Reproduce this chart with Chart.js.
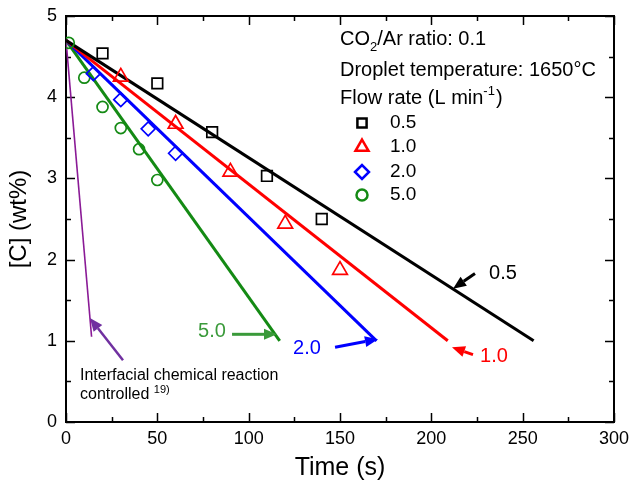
<!DOCTYPE html>
<html>
<head>
<meta charset="utf-8">
<script src="https://cdn.jsdelivr.net/npm/chart.js@4/dist/chart.umd.min.js"></script>
<style>
  html, body { margin: 0; padding: 0; background: #fff; }
  #wrap { width: 632px; height: 488px; }
</style>
</head>
<body>
<div id="wrap"><canvas id="decarbChart" width="632" height="488"></canvas></div>
<script>
// measured points: time (s) and carbon content (wt%)
const time05 = [20, 50, 80, 110, 140];
const carbon05 = [4.54, 4.17, 3.57, 3.03, 2.50];
const time10 = [30, 60, 90, 120, 150];
const carbon10 = [4.25, 3.67, 3.08, 2.44, 1.87];
const time20 = [15, 30, 45, 60];
const carbon20 = [4.29, 3.97, 3.61, 3.31];
const time50 = [1.5, 10, 20, 30, 40, 50];
const carbon50 = [4.67, 4.24, 3.88, 3.62, 3.36, 2.98];

// calculated lines: [start, end]
const fitTime05 = [0, 256];
const fitCarbon05 = [4.7, 1.0];
const fitTime10 = [0, 209];
const fitCarbon10 = [4.7, 1.0];
const fitTime20 = [0, 170];
const fitCarbon20 = [4.7, 1.0];
const fitTime50 = [0, 117];
const fitCarbon50 = [4.7, 1.0];
const fitTimeChem = [0, 14];
const fitCarbonChem = [4.7, 1.05];

const xTicks = [0, 50, 100, 150, 200, 250, 300];
const yTicks = [0, 1, 2, 3, 4, 5];

const BLACK = '#000000', RED = '#ff0000', BLUE = '#0000ff', GREEN = '#148a14', PURPLE = '#8a1a96';
const FONT = '"Liberation Sans", Arial, sans-serif';

const pts = (xs, ys) => xs.map((x, i) => ({ x: x, y: ys[i] }));

const lineSet = (xs, ys, color, w) => ({
    type: 'line', data: pts(xs, ys), borderColor: color, borderWidth: w,
    pointRadius: 0, fill: false, tension: 0
});
const markSet = (xs, ys, color, style, r) => ({
    type: 'scatter', data: pts(xs, ys), borderColor: color, backgroundColor: 'rgba(0,0,0,0)',
    pointStyle: style, pointRadius: r, pointBorderWidth: 1.7
});

// frame with inward ticks on all four sides
const framePlugin = {
    id: 'frame',
    beforeDatasetsDraw(chart) {
        const { ctx, chartArea: a, scales } = chart;
        ctx.save();
        ctx.strokeStyle = '#000';
        ctx.lineWidth = 2;
        ctx.strokeRect(a.left, a.top, a.right - a.left, a.bottom - a.top);
        ctx.lineWidth = 1.5;
        ctx.beginPath();
        for (let v = 0; v <= 300; v += 25) {
            const px = Math.round(scales.x.getPixelForValue(v)) + 0.5;
            const len = v % 50 === 0 ? 9 : 5;
            ctx.moveTo(px, a.bottom); ctx.lineTo(px, a.bottom - len);
            ctx.moveTo(px, a.top); ctx.lineTo(px, a.top + len);
        }
        for (let v = 0; v <= 5; v += 0.5) {
            const py = Math.round(scales.y.getPixelForValue(v)) + 0.5;
            const len = v % 1 === 0 ? 9 : 5;
            ctx.moveTo(a.left, py); ctx.lineTo(a.left + len, py);
            ctx.moveTo(a.right, py); ctx.lineTo(a.right - len, py);
        }
        ctx.stroke();
        ctx.restore();
    }
};

function arrow(ctx, x1, y1, x2, y2, color, w) {
    const ang = Math.atan2(y2 - y1, x2 - x1);
    const hl = 13, hw = 5.5;
    const bx = x2 - Math.cos(ang) * hl, by = y2 - Math.sin(ang) * hl;
    ctx.strokeStyle = color; ctx.fillStyle = color; ctx.lineWidth = w;
    ctx.beginPath(); ctx.moveTo(x1, y1); ctx.lineTo(bx, by); ctx.stroke();
    ctx.beginPath();
    ctx.moveTo(x2, y2);
    ctx.lineTo(bx - Math.sin(ang) * hw, by + Math.cos(ang) * hw);
    ctx.lineTo(bx + Math.sin(ang) * hw, by - Math.cos(ang) * hw);
    ctx.closePath(); ctx.fill();
}

const notePlugin = {
    id: 'notes',
    afterDatasetsDraw(chart) {
        const { ctx, scales } = chart;
        const X = v => scales.x.getPixelForValue(v);
        const Y = v => scales.y.getPixelForValue(v);
        ctx.save();
        ctx.textBaseline = 'middle';

        // arrows pointing at the calculated lines
        arrow(ctx, X(223.9), Y(1.83), X(211.9), Y(1.64), BLACK, 3);
        arrow(ctx, X(222.8), Y(0.83), X(211.3), Y(0.92), RED, 3);
        arrow(ctx, X(147.3), Y(0.92), X(170.8), Y(1.02), BLUE, 3);
        arrow(ctx, X(90.9), Y(1.08), X(115.5), Y(1.08), '#3a9a3a', 3);
        arrow(ctx, X(31.2), Y(0.76), X(13.1), Y(1.28), '#7030a0', 2.5);

        ctx.font = '20px ' + FONT;
        ctx.textAlign = 'center';
        ctx.fillStyle = BLACK; ctx.fillText('0.5', X(239.2), Y(1.83));
        ctx.fillStyle = RED; ctx.fillText('1.0', X(234.3), Y(0.81));
        ctx.fillStyle = BLUE; ctx.fillText('2.0', X(131.9), Y(0.91));
        ctx.fillStyle = '#3a9a3a'; ctx.fillText('5.0', X(79.9), Y(1.12));

        ctx.textAlign = 'left';
        ctx.fillStyle = '#000';
        ctx.font = '16px ' + FONT;
        ctx.fillText('Interfacial chemical reaction', 80, 376);
        ctx.fillText('controlled', 80, 395);
        const cw = ctx.measureText('controlled ').width;
        ctx.font = '11px ' + FONT;
        ctx.fillText('19)', 80 + cw, 390);

        // condition text and marker key
        ctx.font = '20px ' + FONT;
        ctx.fillText('CO', 340, 39);
        let x = 340 + ctx.measureText('CO').width;
        ctx.font = '13px ' + FONT;
        ctx.fillText('2', x, 47);
        x += ctx.measureText('2').width;
        ctx.font = '20px ' + FONT;
        ctx.fillText('/Ar ratio: 0.1', x, 39);
        ctx.fillText('Droplet temperature: 1650\u00b0C', 340, 70);
        ctx.fillText('Flow rate (L min', 340, 98);
        x = 340 + ctx.measureText('Flow rate (L min').width;
        ctx.font = '13px ' + FONT;
        ctx.fillText('-1', x, 91);
        x += ctx.measureText('-1').width;
        ctx.font = '20px ' + FONT;
        ctx.fillText(')', x + 1, 98);

        const key = [
            ['0.5', BLACK, 'rect', 6.5],
            ['1.0', RED, 'triangle', 7.5],
            ['2.0', BLUE, 'rectRot', 7],
            ['5.0', GREEN, 'circle', 5.5]
        ];
        const keyY = [123, 147, 172, 195];
        ctx.font = '19px ' + FONT;
        key.forEach((k, i) => {
            ctx.strokeStyle = k[1];
            ctx.fillStyle = 'rgba(0,0,0,0)';
            Chart.helpers.drawPoint(ctx, { pointStyle: k[2], radius: k[3], rotation: 0, borderWidth: 1.5 }, 362, keyY[i]);
            ctx.fillStyle = '#000';
            ctx.fillText(k[0], 390, keyY[i]);
        });
        ctx.restore();
    }
};

new Chart(document.getElementById('decarbChart'), {
    type: 'scatter',
    data: {
        datasets: [
            markSet(time05, carbon05, BLACK, 'rect', 7.5),
            markSet(time10, carbon10, RED, 'triangle', 8.5),
            markSet(time20, carbon20, BLUE, 'rectRot', 7),
            markSet(time50, carbon50, GREEN, 'circle', 5.5),
            lineSet(fitTime05, fitCarbon05, BLACK, 3),
            lineSet(fitTime10, fitCarbon10, RED, 3),
            lineSet(fitTime20, fitCarbon20, BLUE, 3),
            lineSet(fitTime50, fitCarbon50, GREEN, 3),
            lineSet(fitTimeChem, fitCarbonChem, PURPLE, 1.6)
        ]
    },
    options: {
        responsive: false,
        animation: false,
        layout: { padding: { top: 16, right: 18, left: 0, bottom: 0 } },
        scales: {
            x: {
                type: 'linear', min: 0, max: 300,
                afterBuildTicks: s => { s.ticks = xTicks.map(v => ({ value: v })); },
                afterFit: s => { s.height = 66; s.paddingLeft = 0; s.paddingRight = 0; },
                ticks: { color: '#000', font: { family: FONT, size: 18 }, padding: 6, maxRotation: 0 },
                grid: { display: false, drawTicks: false },
                border: { display: false },
                title: { display: true, text: 'Time (s)', color: '#000', font: { family: FONT, size: 25 }, padding: { top: 0, bottom: 5 } }
            },
            y: {
                type: 'linear', min: 0, max: 5,
                afterBuildTicks: s => { s.ticks = yTicks.map(v => ({ value: v })); },
                afterFit: s => { s.width = 66; s.paddingTop = 0; s.paddingBottom = 0; },
                ticks: { color: '#000', font: { family: FONT, size: 18 }, padding: 9 },
                grid: { display: false, drawTicks: false },
                border: { display: false },
                title: { display: true, text: '[C] (wt%)', color: '#000', font: { family: FONT, size: 24 }, padding: { top: 5, bottom: 0 } }
            }
        },
        plugins: { legend: { display: false }, tooltip: { enabled: false } }
    },
    plugins: [framePlugin, notePlugin]
});
</script>
</body>
</html>
